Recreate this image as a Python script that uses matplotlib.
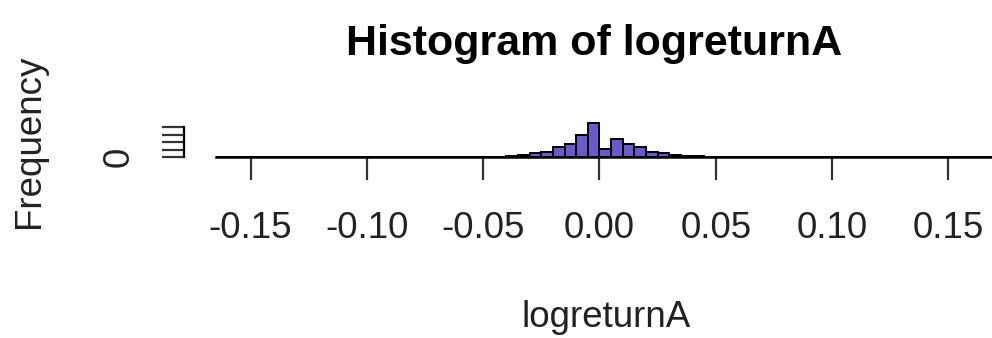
import numpy as np
import matplotlib
matplotlib.use("Agg")
import matplotlib.pyplot as plt

plt.rcParams['font.family'] = ['Liberation Sans', 'DejaVu Sans']

# bin edges (width 0.005) and counts
bin_edges = np.round(np.arange(-0.165, 0.1751, 0.005), 3)
counts = np.zeros(len(bin_edges) - 1)
center_counts = {
    -0.060: 1, -0.055: 1, -0.050: 2, -0.045: 3, -0.040: 8, -0.035: 30,
    -0.030: 60, -0.025: 65, -0.020: 130, -0.015: 170, -0.010: 290, -0.005: 453,
    0.000: 105, 0.005: 240, 0.010: 170, 0.015: 130, 0.020: 65, 0.025: 60,
    0.030: 30, 0.035: 18, 0.040: 8, 0.045: 4, 0.050: 2, 0.055: 1, 0.060: 1,
}
for left, c in center_counts.items():
    idx = int(round((left - bin_edges[0]) / 0.005))
    counts[idx] = c

x_ticks = [-0.15, -0.10, -0.05, 0.00, 0.05, 0.10, 0.15]
x_labels = ['-0.15', '-0.10', '-0.05', '0.00', '0.05', '0.10', '0.15']
y_ticks = [0, 100, 200, 300, 400]
y_labels = ['0', '', '', '', '']

W, H = 992, 338
fig = plt.figure(figsize=(W / 100, H / 100), dpi=100)
ax = fig.add_axes([184 / W, (H - 157) / H, (W - 184) / W, 35.25 / H])

ax.bar(bin_edges[:-1], counts, width=0.005, align='edge',
       color='#6A5ACD', edgecolor='black', linewidth=1.4, clip_on=False)

ax.set_xlim(-0.17863, 0.16875)
ax.set_ylim(0, 470)

for s in ['top', 'right']:
    ax.spines[s].set_visible(False)
ax.spines['left'].set_bounds(0, 400)
ax.spines['bottom'].set_bounds(-0.165, 0.16875)
ax.spines['left'].set_linewidth(1.6)
ax.spines['bottom'].set_linewidth(1.8)

ax.set_xticks(x_ticks)
ax.set_xticklabels(x_labels, fontsize=26.5)
ax.tick_params(axis='x', length=16.5, width=1.6, pad=22.5, colors='#333333',
               labelcolor='#222222')
ax.set_yticks(y_ticks)
ax.set_yticklabels(y_labels, fontsize=26.5, rotation=90, va='center')
ax.tick_params(axis='y', length=16, width=1.6, pad=18, colors='#333333',
               labelcolor='#222222')

fig.text(594 / W, 1 - 55 / H, 'Histogram of logreturnA', fontsize=31,
         fontweight='bold', ha='center', va='baseline')
fig.text(606 / W, 1 - 327 / H, 'logreturnA', fontsize=26.5,
         ha='center', va='baseline', color='#222222')
fig.text(29 / W, 1 - 141.5 / H, 'Frequency', fontsize=26.5, rotation=90,
         ha='center', va='center', color='#222222')

fig.savefig('out.png', dpi=100)
